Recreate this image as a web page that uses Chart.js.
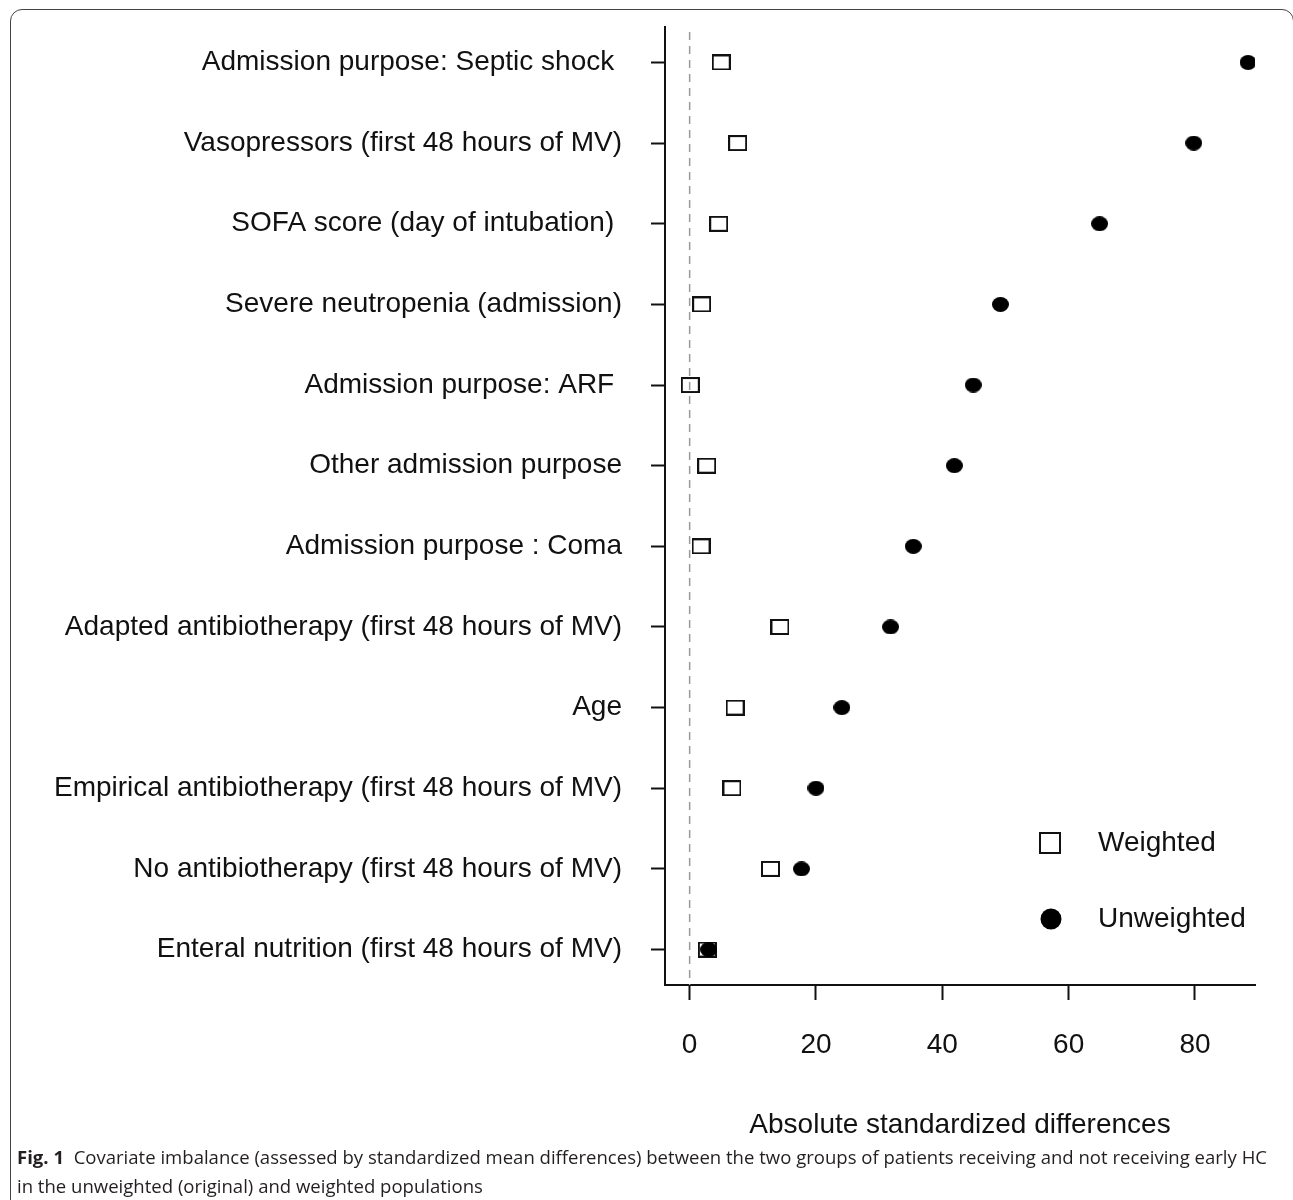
<!DOCTYPE html>
<html>
<head>
<meta charset="utf-8">
<title>Covariate imbalance</title>
<script src="https://cdn.jsdelivr.net/npm/chart.js@4.4.1/dist/chart.umd.min.js"></script>
<style>
  html, body { margin: 0; padding: 0; background: #fff; overflow: hidden; }
  #wrap { position: relative; width: 1293px; height: 1200px; overflow: hidden; }
  #frame { position: absolute; left: 10px; top: 9px; width: 1284px; height: 1260px;
           border: 1.5px solid #444; border-radius: 12px; box-sizing: border-box; }
  #smdChart { position: absolute; left: 0; top: 0; }
  .cap { position: absolute; left: 17px; font-family: "Open Sans", sans-serif; font-size: 18.5px;
         line-height: 22px; color: #231f20; white-space: nowrap; transform-origin: 0 50%; }
</style>
</head>
<body>
<div id="wrap">
  <div id="frame"></div>
  <canvas id="smdChart" width="1293" height="1200"></canvas>
  <div class="cap" id="cap1" style="top:1146px"><b>Fig. 1</b>&nbsp; Covariate imbalance (assessed by standardized mean differences) between the two groups of patients receiving and not receiving early HC</div>
  <div class="cap" id="cap2" style="top:1175px">in the unweighted (original) and weighted populations</div>
</div>
<script>
// rows from top to bottom
const covariates = [
  'Admission purpose: Septic shock ',
  'Vasopressors (first 48 hours of MV)',
  'SOFA score (day of intubation) ',
  'Severe neutropenia (admission)',
  'Admission purpose: ARF ',
  'Other admission purpose',
  'Admission purpose : Coma',
  'Adapted antibiotherapy (first 48 hours of MV)',
  'Age',
  'Empirical antibiotherapy (first 48 hours of MV)',
  'No antibiotherapy (first 48 hours of MV)',
  'Enteral nutrition (first 48 hours of MV)'
];
const weighted   = [5.0, 7.6, 4.6, 1.9, 0.1, 2.7, 1.8, 14.3, 7.2, 6.7, 12.8, 2.8];
const unweighted = [88.4, 79.8, 64.9, 49.2, 44.9, 41.9, 35.4, 31.8, 24.1, 20.0, 17.7, 3.0];
const xTicks = [0, 20, 40, 60, 80];
const seriesNames = ['Weighted', 'Unweighted'];

const FONT = 'Liberation Sans, Arial, sans-serif';
const INK = '#111';

const rowY = i => covariates.length - i;
const toPoints = vals => vals.map((v, i) => ({ x: v, y: rowY(i) }));

// small canvases used as point markers (boxes are a bit wider than tall in the original)
function makeMarker(w, h, draw) {
  const c = document.createElement('canvas');
  c.width = w; c.height = h;
  draw(c.getContext('2d'), w, h);
  return c;
}
const openBox = makeMarker(19, 16, (ctx, w, h) => {
  ctx.strokeStyle = INK; ctx.lineWidth = 2;
  ctx.strokeRect(1, 1, w - 2, h - 2);
});
const blackDot = makeMarker(17, 15, (ctx, w, h) => {
  ctx.fillStyle = '#000';
  ctx.beginPath();
  ctx.ellipse(w / 2, h / 2, w / 2, h / 2, 0, 0, Math.PI * 2);
  ctx.fill();
});

// grey dashed reference line at zero
const zeroLine = {
  id: 'zeroLine',
  beforeDatasetsDraw(chart) {
    const { ctx, chartArea, scales } = chart;
    const x0 = scales.x.getPixelForValue(0);
    ctx.save();
    ctx.strokeStyle = '#999';
    ctx.lineWidth = 1.5;
    ctx.setLineDash([8, 6]);
    ctx.beginPath();
    ctx.moveTo(x0, chartArea.top + 5);
    ctx.lineTo(x0, chartArea.bottom);
    ctx.stroke();
    ctx.restore();
  }
};

// legend sitting inside the plot, lower right
const boxLegend = {
  id: 'boxLegend',
  afterDatasetsDraw(chart) {
    const { ctx, chartArea } = chart;
    const mx = chartArea.right - 205;
    const tx = chartArea.right - 157;
    const rows = [chartArea.bottom - 142, chartArea.bottom - 66];
    ctx.save();
    // weighted: open box
    ctx.strokeStyle = INK; ctx.lineWidth = 2;
    ctx.strokeRect(mx - 10, rows[0] - 10, 20, 20);
    // unweighted: filled dot
    ctx.fillStyle = '#000';
    ctx.beginPath();
    ctx.arc(mx + 1, rows[1], 10.5, 0, Math.PI * 2);
    ctx.fill();
    ctx.fillStyle = INK;
    ctx.font = '28px ' + FONT;
    ctx.textBaseline = 'middle';
    ctx.fillText(seriesNames[0], tx, rows[0]);
    ctx.fillText(seriesNames[1], tx, rows[1]);
    ctx.restore();
  }
};

const tickFont = { family: FONT, size: 28 };

new Chart(document.getElementById('smdChart'), {
  type: 'scatter',
  data: {
    datasets: [
      { label: seriesNames[0], data: toPoints(weighted), pointStyle: openBox, pointRadius: 9, order: 1 },
      { label: seriesNames[1], data: toPoints(unweighted), pointStyle: blackDot, pointRadius: 8, order: 0 }
    ]
  },
  options: {
    responsive: false,
    animation: false,
    layout: { padding: { top: 27, right: 38, bottom: 0, left: 0 } },
    plugins: { legend: { display: false }, tooltip: { enabled: false } },
    scales: {
      x: {
        type: 'linear', min: -3.9, max: 89.5,
        afterBuildTicks: s => { s.ticks = xTicks.map(v => ({ value: v })); },
        afterFit: s => { s.height = 215; s.paddingLeft = 0; s.paddingRight = 0; },
        grid: { drawOnChartArea: false, tickLength: 15, tickWidth: 2, tickColor: INK },
        border: { display: true, color: INK, width: 2 },
        ticks: { padding: 28, color: INK, font: tickFont, maxRotation: 0 },
        title: {
          display: true, text: 'Absolute standardized differences', color: INK,
          font: tickFont, padding: { top: 0, bottom: 58 }
        }
      },
      y: {
        type: 'linear', min: 0.56, max: 12.44,
        afterBuildTicks: s => { s.ticks = covariates.map((c, i) => ({ value: rowY(i) })); },
        afterFit: s => { s.width = 665; s.paddingTop = 0; s.paddingBottom = 0; },
        grid: { drawOnChartArea: false, tickLength: 14, tickWidth: 2, tickColor: INK },
        border: { display: true, color: INK, width: 2 },
        ticks: {
          padding: 29, color: INK, font: tickFont,
          callback: v => covariates[covariates.length - v]
        }
      }
    }
  },
  plugins: [zeroLine, boxLegend]
});

// squeeze the caption to the width used in the figure
const cap1 = document.getElementById('cap1');
const cap2 = document.getElementById('cap2');
const squeeze = 1250 / cap1.getBoundingClientRect().width;
cap1.style.transform = 'scaleX(' + squeeze + ')';
cap2.style.transform = 'scaleX(' + squeeze + ')';
</script>
</body>
</html>
